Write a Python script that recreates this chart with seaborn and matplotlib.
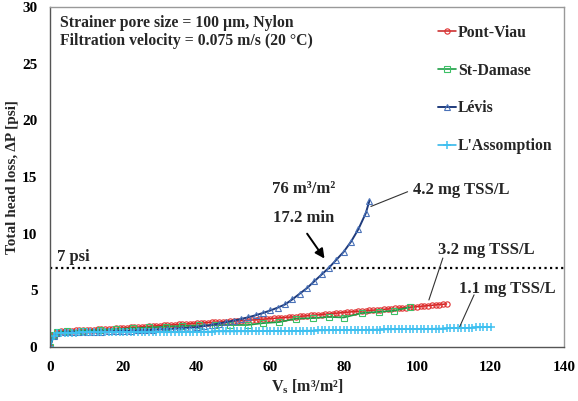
import matplotlib
matplotlib.use("Agg")
import matplotlib.pyplot as plt
import seaborn as sns
import pandas as pd

# ---------------- data ----------------
pv_x = [0, 1, 2, 3, 4, 5, 6, 7, 8, 9, 10, 11, 12, 13, 14, 15, 16, 17, 18, 19, 20,
        21, 22, 23, 24, 25, 26, 27, 28, 29, 30, 31, 32, 33, 34, 35, 36, 37, 38, 39, 40,
        41, 42, 43, 44, 45, 46, 47, 48, 49, 50, 51, 52, 53, 54, 55, 56, 57, 58, 59, 60,
        61, 62, 63, 64, 65, 66, 67, 68, 69, 70, 71, 72, 73, 74, 75, 76, 77, 78, 79, 80,
        81, 82, 83, 84, 85, 86, 87, 88, 89, 90, 91, 92, 93, 94, 95, 96, 97, 98, 99, 100,
        101, 102, 103, 104, 105, 106, 107, 108]
pv_y = [0, 1.1, 1.35, 1.4, 1.42, 1.44, 1.45, 1.46, 1.48, 1.49, 1.5,
        1.51, 1.53, 1.55, 1.56, 1.58, 1.6, 1.62, 1.64, 1.66, 1.68,
        1.7, 1.72, 1.74, 1.76, 1.78, 1.8, 1.83, 1.85, 1.87, 1.89,
        1.91, 1.93, 1.95, 1.97, 1.99, 2.01, 2.03, 2.05, 2.07, 2.09,
        2.11, 2.13, 2.15, 2.17, 2.18, 2.2, 2.22, 2.24, 2.26, 2.28,
        2.3, 2.32, 2.34, 2.36, 2.38, 2.4, 2.43, 2.45, 2.48, 2.5,
        2.53, 2.55, 2.58, 2.6, 2.63, 2.65, 2.68, 2.7, 2.73, 2.75,
        2.78, 2.8, 2.83, 2.86, 2.89, 2.92, 2.95, 2.98, 3.01, 3.04,
        3.07, 3.1, 3.12, 3.15, 3.18, 3.2, 3.23, 3.25, 3.28, 3.3,
        3.33, 3.35, 3.38, 3.4, 3.43, 3.45, 3.48, 3.5, 3.53, 3.56,
        3.59, 3.62, 3.65, 3.68, 3.71, 3.74, 3.77, 3.8]

sd_x = [0, 1, 2, 4.5, 9, 13.5, 18, 22.5, 27, 31.5, 36, 40.5, 45, 49, 53.8, 58, 62.5, 67,
        71.5, 76, 80, 85, 89.5, 93.6, 98]
sd_y = [0, 1.1, 1.3, 1.38, 1.42, 1.5, 1.58, 1.65, 1.72, 1.8, 1.86, 1.9, 1.92, 1.94, 1.94,
        2.1, 2.2, 2.5, 2.55, 2.65, 2.6, 3.0, 3.1, 3.2, 3.5]

lv_x = [0, 1, 2, 4, 6, 8, 10, 12, 14, 16, 18, 20, 22, 24, 26, 28, 30, 32, 34, 36, 38, 40,
        42, 44, 46, 48, 50, 52, 54, 56, 58, 60, 62, 64, 66, 68, 70, 72, 74, 76, 78, 80,
        82, 84, 86, 87]
lv_y = [0, 1.0, 1.2, 1.28, 1.3, 1.32, 1.33, 1.35, 1.36, 1.38, 1.4, 1.42, 1.44, 1.46, 1.49,
        1.52, 1.55, 1.58, 1.62, 1.66, 1.7, 1.75, 1.85, 1.95, 2.07, 2.2, 2.33, 2.47, 2.62,
        2.8, 3.0, 3.22, 3.47, 3.75, 4.2, 4.7, 5.2, 5.8, 6.4, 7.0, 7.7, 8.4, 9.3, 10.4,
        11.8, 12.9]

la_x = [0, 1, 2, 3, 4, 5, 6, 7, 8, 9, 10, 11, 12, 13, 14, 15, 16, 17, 18, 19, 20,
        21, 22, 23, 24, 25, 26, 27, 28, 29, 30, 31, 32, 33, 34, 35, 36, 37, 38, 39, 40,
        41, 42, 43, 44, 45, 46, 47, 48, 49, 50, 51, 52, 53, 54, 55, 56, 57, 58, 59, 60,
        61, 62, 63, 64, 65, 66, 67, 68, 69, 70, 71, 72, 73, 74, 75, 76, 77, 78, 79, 80,
        81, 82, 83, 84, 85, 86, 87, 88, 89, 90, 91, 92, 93, 94, 95, 96, 97, 98, 99, 100,
        101, 102, 103, 104, 105, 106, 107, 108, 109, 110, 111, 112, 113, 114, 115, 116,
        117, 118, 119, 120]
la_y = [0, 1.0, 1.2, 1.23, 1.25, 1.26, 1.27, 1.27, 1.28, 1.28, 1.29,
        1.29, 1.3, 1.3, 1.3, 1.3, 1.31, 1.31, 1.31, 1.31, 1.32,
        1.32, 1.32, 1.32, 1.33, 1.33, 1.33, 1.33, 1.33, 1.34, 1.34,
        1.34, 1.34, 1.34, 1.34, 1.35, 1.35, 1.35, 1.35, 1.35, 1.35,
        1.36, 1.36, 1.36, 1.36, 1.37, 1.37, 1.37, 1.37, 1.37, 1.37,
        1.38, 1.38, 1.38, 1.38, 1.39, 1.39, 1.39, 1.39, 1.4, 1.4,
        1.4, 1.41, 1.41, 1.41, 1.42, 1.42, 1.43, 1.43, 1.44, 1.44,
        1.45, 1.45, 1.46, 1.46, 1.47, 1.47, 1.48, 1.48, 1.49, 1.49,
        1.5, 1.5, 1.51, 1.51, 1.52, 1.52, 1.53, 1.53, 1.54, 1.54,
        1.55, 1.55, 1.56, 1.56, 1.57, 1.57, 1.58, 1.58, 1.59, 1.59,
        1.6, 1.6, 1.61, 1.61, 1.62, 1.63, 1.63, 1.64, 1.65, 1.66,
        1.67, 1.68, 1.69, 1.7, 1.71, 1.72, 1.73, 1.74, 1.75, 1.76]

series_names = ["Pont-Viau", "St-Damase", "Lévis", "L'Assomption"]
threshold = 7
x_ticks = [0, 20, 40, 60, 80, 100, 120, 140]
y_ticks = [0, 5, 10, 15, 20, 25, 30]

# ---------------- style ----------------
sns.set_theme(style="white")
plt.rcParams["font.family"] = ["Liberation Serif", "DejaVu Serif"]
plt.rcParams["font.weight"] = "bold"
plt.rcParams["axes.labelweight"] = "bold"
plt.rcParams["mathtext.fontset"] = "custom"
plt.rcParams["mathtext.rm"] = "Liberation Serif:bold"
plt.rcParams["mathtext.it"] = "Liberation Serif:bold"
plt.rcParams["mathtext.bf"] = "Liberation Serif:bold"

fig = plt.figure(figsize=(5.78, 4.01), dpi=100)
ax = fig.add_axes([0.0865, 0.1347, 0.8893, 0.8478])

styles = [
    (pv_x, pv_y, "#c82020", "#e03030", "o", 3.8, 1.1, 0.8),
    (sd_x, sd_y, "#1e9e46", "#3cc066", "s", 4.2, 1.2, 0.8),
    (lv_x, lv_y, "#1f3b7c", "#4a72b8", "^", 4.2, 1.4, 0.8),
    (la_x, la_y, "#25b2e8", "#3ec0f0", "+", 5.5, 1.1, 1.1),
]
for name, (xs, ys, lc, mc, mk, ms, lw, mew) in zip(series_names, styles):
    df = pd.DataFrame({"x": xs, "y": ys})
    sns.lineplot(data=df, x="x", y="y", ax=ax, color=lc, linewidth=lw,
                 marker=mk, markersize=ms, markerfacecolor="none",
                 markeredgecolor=mc, markeredgewidth=mew, label=name)

ax.axhline(threshold, color="black", linestyle=(0, (1, 1.5)), linewidth=1.6, zorder=1)

ax.set_xlim(0, 140)
ax.set_ylim(0, 30)
ax.set_xticks(x_ticks)
ax.set_yticks(y_ticks)
ax.tick_params(direction="in", length=4, width=0.8, labelsize=11, colors="black")
ax.tick_params(axis="x", pad=10)
ax.tick_params(axis="y", pad=9)
for lab in ax.get_xticklabels() + ax.get_yticklabels():
    lab.set_fontweight("bold")
for s in ["left", "bottom"]:
    ax.spines[s].set_color("#555555")
for s in ["top", "right"]:
    ax.spines[s].set_color("#999999")
for s in ax.spines.values():
    s.set_linewidth(1.0)

ax.set_xlabel(r"V$_\mathregular{s}$ [m³/m²]", fontsize=11.5, fontweight="bold", labelpad=3)
ax.set_ylabel("Total head loss, ΔP [psi]", fontsize=11, fontweight="bold", labelpad=2)

ax.text(2.7, 27.8, "Strainer pore size = 100 µm, Nylon\nFiltration velocity = 0.075 m/s (20 °C)",
        fontsize=11.3, fontweight="bold", va="center", ha="left", linespacing=1.2)
ax.text(2.0, 7.6, "7 psi", fontsize=12, fontweight="bold", va="baseline", ha="left")
ax.text(69, 13.9, "76 m³/m²", fontsize=12, fontweight="bold", va="center", ha="center")
ax.text(69, 11.4, "17.2 min", fontsize=12, fontweight="bold", va="center", ha="center")
ax.annotate("", xy=(75.2, 7.6), xytext=(69.6, 10.2),
            arrowprops=dict(arrowstyle="-|>", color="black", lw=1.4, mutation_scale=14))

ax.text(112, 13.85, "4.2 mg TSS/L", fontsize=12, fontweight="bold", va="center", ha="center")
ax.plot([97.4, 87.4], [13.7, 12.4], color="#333333", lw=0.8)
ax.text(118.9, 8.56, "3.2 mg TSS/L", fontsize=12, fontweight="bold", va="center", ha="center")
ax.plot([107, 103.2], [7.85, 4.15], color="#333333", lw=0.8)
ax.text(124.5, 5.1, "1.1 mg TSS/L", fontsize=12, fontweight="bold", va="center", ha="center")
ax.plot([115.5, 111.6], [4.6, 1.8], color="#333333", lw=0.8)

leg = ax.legend(loc="upper left", bbox_to_anchor=(0.728, 0.99), frameon=False,
                labelspacing=1.4, handlelength=1.1, handletextpad=0.15,
                prop={"family": "Liberation Serif", "weight": "bold", "size": 11.3})

fig.savefig("out.png", dpi=100)
